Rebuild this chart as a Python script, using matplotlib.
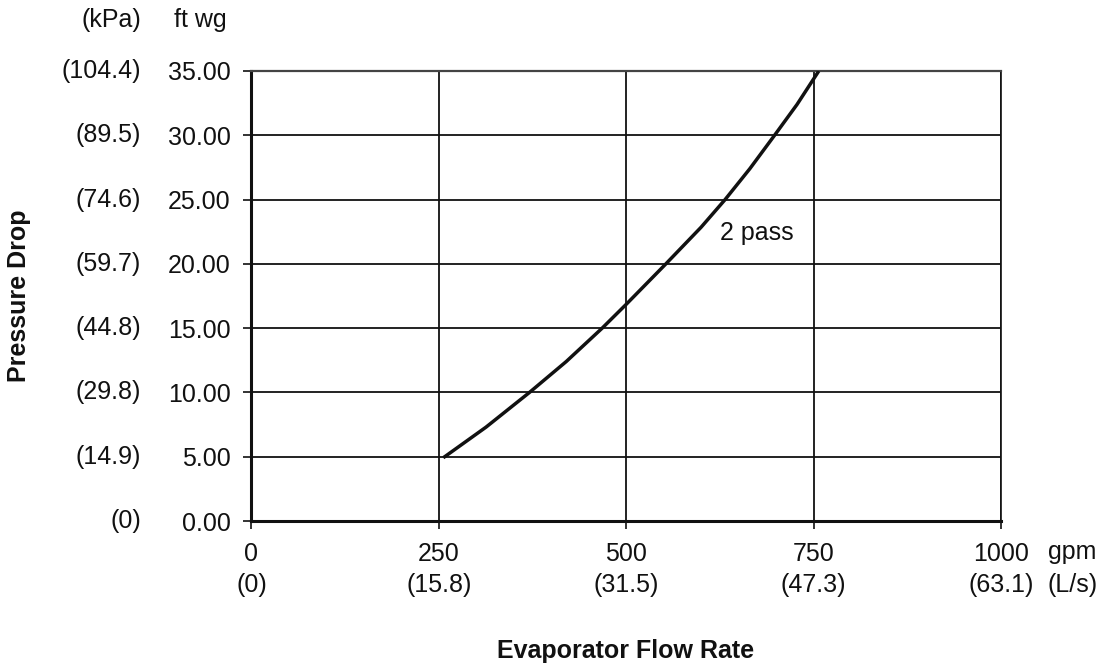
import matplotlib
matplotlib.use('Agg')
import matplotlib.pyplot as plt

plt.rcParams['font.family'] = ['Liberation Sans', 'DejaVu Sans']

### evaporator pressure drop curve, 2 pass
flow_gpm = [256, 313, 371, 420, 468, 500, 553, 600, 632, 665, 698, 728, 757]
dp_ftwg = [4.92, 7.3, 10.0, 12.4, 15.0, 16.85, 20.0, 22.85, 25.0, 27.4, 30.0, 32.4, 35.0]

### axis ticks and metric equivalents
x_ticks = [0, 250, 500, 750, 1000]
x_metric = ['(0)', '(15.8)', '(31.5)', '(47.3)', '(63.1)']
y_ticks = [0, 5, 10, 15, 20, 25, 30, 35]
y_metric = ['(0)', '(14.9)', '(29.8)', '(44.8)', '(59.7)', '(74.6)', '(89.5)', '(104.4)']

fs = 18
ink = '#111111'

fig = plt.figure(figsize=(11.06, 6.66), dpi=100)
ax = fig.add_axes([0.2273, 0.2177, 0.6777, 0.6757])

ax.plot(flow_gpm, dp_ftwg, color=ink, lw=2.5, solid_capstyle='butt',
        solid_joinstyle='round', zorder=3)
ax.text(674, 22.4, '2 pass', fontsize=fs, ha='center', va='center', color=ink)

ax.set_xlim(0, 1000)
ax.set_ylim(0, 35)
ax.set_xticks(x_ticks)
ax.set_xticklabels(['%d\n%s' % (t, m) for t, m in zip(x_ticks, x_metric)],
                   fontsize=fs, linespacing=1.4)
ax.set_yticks(y_ticks)
ax.set_yticklabels(['%.2f' % t for t in y_ticks], fontsize=fs)
ax.tick_params(axis='both', direction='out', length=6, width=1.2, color=ink, labelcolor=ink)
ax.tick_params(axis='y', pad=9)
ax.tick_params(axis='x', pad=9)

ax.grid(True, color=ink, lw=1.3)
ax.set_axisbelow(True)
for side in ['left', 'bottom']:
    ax.spines[side].set_linewidth(2.2)
    ax.spines[side].set_color(ink)
ax.spines['top'].set_linewidth(1.6)
ax.spines['top'].set_color('#444444')
ax.spines['right'].set_linewidth(1.2)
ax.spines['right'].set_color(ink)

# kPa column to the left of the ft wg labels
ytrans = ax.get_yaxis_transform()
for t, m in zip(y_ticks, y_metric):
    ax.text(-0.1473, t, m, transform=ytrans, fontsize=fs, ha='right', va='center', color=ink)

# unit headers
ax.text(-0.1473, 1.113, '(kPa)', transform=ax.transAxes, fontsize=fs, ha='right', va='center', color=ink)
ax.text(-0.0325, 1.113, 'ft wg', transform=ax.transAxes, fontsize=fs, ha='right', va='center', color=ink)
ax.text(1.0627, -0.069, 'gpm', transform=ax.transAxes, fontsize=fs, ha='left', va='center', color=ink)
ax.text(1.0627, -0.142, '(L/s)', transform=ax.transAxes, fontsize=fs, ha='left', va='center', color=ink)

fig.text(19 / 1106, 1 - 296 / 666, 'Pressure Drop', rotation=90, fontsize=fs,
         fontweight='bold', ha='center', va='center', color=ink)
fig.text(626 / 1106, 1 - 651 / 666, 'Evaporator Flow Rate', fontsize=fs,
         fontweight='bold', ha='center', va='center', color=ink)

plt.savefig('out.png', dpi=100)
